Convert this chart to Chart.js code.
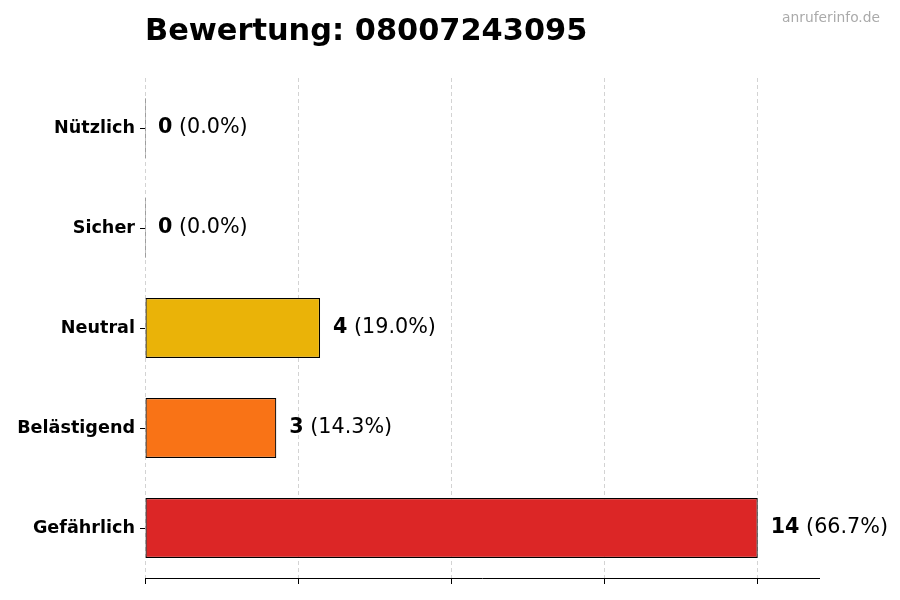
<!DOCTYPE html>
<html lang="de">
<head>
    <meta charset="UTF-8">
    <title>Bewertung: 08007243095</title>
    <script src="https://cdn.jsdelivr.net/npm/chart.js"></script>
    <style>
        html, body { margin: 0; padding: 0; background: #fff; }
        #wrap { width: 900px; height: 600px; position: relative; }
    </style>
</head>
<body>
    <div id="wrap"><canvas id="ratingChart"></canvas></div>
    <script>
        const categories = ['Nützlich', 'Sicher', 'Neutral', 'Belästigend', 'Gefährlich'];
        const counts = [0, 0, 4, 3, 14];
        const barColors = ['#22c55e', '#3b82f6', '#eab308', '#f97316', '#dc2626'];
        const xTicks = [0, 3.5, 7, 10.5, 14];
        const xMax = 15.4;
        const chartTitle = 'Bewertung: 08007243095';
        const watermark = 'anruferinfo.de';

        const total = counts.reduce((a, b) => a + b, 0);

        // title, watermark and the value labels next to each bar
        const textPlugin = {
            id: 'texts',
            afterDraw(chart) {
                const ctx = chart.ctx;
                const area = chart.chartArea;
                ctx.save();
                ctx.fillStyle = '#000';
                ctx.textBaseline = 'alphabetic';
                ctx.textAlign = 'left';
                ctx.font = 'bold 30.4px "DejaVu Sans"';
                ctx.fillText(chartTitle, area.left, 40);

                ctx.fillStyle = '#aaa';
                ctx.textAlign = 'right';
                ctx.font = '13.8px "DejaVu Sans"';
                ctx.fillText(watermark, 880, 22);

                const meta = chart.getDatasetMeta(0);
                const xScale = chart.scales.x;
                ctx.textBaseline = 'middle';
                ctx.textAlign = 'left';
                meta.data.forEach((bar, i) => {
                    const v = counts[i];
                    const pct = total ? (v / total * 100).toFixed(1) : '0.0';
                    let x = xScale.getPixelForValue(v) + 13;
                    const y = bar.y;
                    ctx.fillStyle = '#000';
                    ctx.font = 'bold 20.7px "DejaVu Sans"';
                    const num = String(v);
                    ctx.fillText(num, x, y);
                    x += ctx.measureText(num).width;
                    ctx.font = '20.7px "DejaVu Sans"';
                    ctx.fillText(' (' + pct + '%)', x, y);
                });
                ctx.restore();
            }
        };

        new Chart(document.getElementById('ratingChart').getContext('2d'), {
            type: 'bar',
            data: {
                labels: categories,
                datasets: [{
                    data: counts,
                    backgroundColor: barColors,
                    borderColor: '#000',
                    borderWidth: 1.2,
                    borderSkipped: false,
                    barPercentage: 0.6,
                    categoryPercentage: 1.0,
                    minBarLength: 1
                }]
            },
            options: {
                indexAxis: 'y',
                responsive: true,
                maintainAspectRatio: false,
                animation: false,
                layout: { padding: { left: 0, right: 81, top: 78, bottom: 0 } },
                plugins: {
                    legend: { display: false },
                    title: { display: false },
                    tooltip: { enabled: false }
                },
                scales: {
                    x: {
                        min: 0,
                        max: xMax,
                        z: 1,
                        afterBuildTicks(scale) {
                            scale.ticks = xTicks.map(v => ({ value: v }));
                        },
                        afterFit(scale) { scale.height = 22; },
                        ticks: { display: false },
                        grid: {
                            color: 'rgba(128,128,128,0.35)',
                            lineWidth: 1,
                            drawTicks: true,
                            tickLength: 6,
                            tickColor: '#000',
                            tickWidth: 1
                        },
                        border: { display: true, color: '#000', width: 1, dash: [4, 3] }
                    },
                    y: {
                        afterFit(scale) { scale.width = 145; },
                        grid: {
                            offset: false,
                            drawOnChartArea: false,
                            drawTicks: true,
                            tickLength: 5,
                            tickColor: '#000',
                            tickWidth: 1
                        },
                        border: { display: false },
                        ticks: {
                            color: '#000',
                            padding: 5,
                            font: { family: 'DejaVu Sans', size: 17.6, weight: 'bold' }
                        }
                    }
                }
            },
            plugins: [textPlugin]
        });
    </script>
</body>
</html>
